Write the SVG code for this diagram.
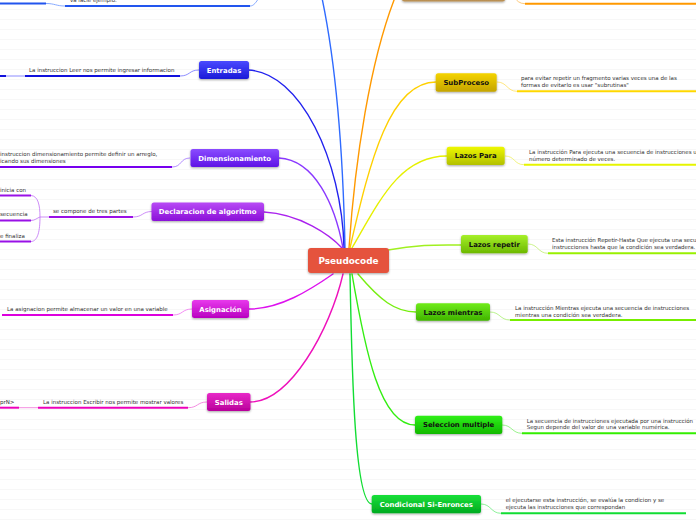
<svg xmlns="http://www.w3.org/2000/svg" width="696" height="520" viewBox="0 0 696 520">
<defs>
<pattern id="stripes" width="10" height="10" patternUnits="userSpaceOnUse">
<rect width="10" height="10" fill="#ffffff"/>
<rect y="9" width="10" height="1" fill="#f7f7f7"/>
</pattern>
<filter id="sh" x="-20%" y="-30%" width="140%" height="170%">
<feDropShadow dx="0" dy="1" stdDeviation="0.8" flood-color="#000" flood-opacity="0.35"/>
</filter>
<linearGradient id="gBlue" x1="0" y1="0" x2="0" y2="1"><stop offset="0" stop-color="#4a4aff"/><stop offset="1" stop-color="#1a1ad8"/></linearGradient>
<linearGradient id="gDim" x1="0" y1="0" x2="0" y2="1"><stop offset="0" stop-color="#8a4cff"/><stop offset="1" stop-color="#5e12e6"/></linearGradient>
<linearGradient id="gDec" x1="0" y1="0" x2="0" y2="1"><stop offset="0" stop-color="#b84af5"/><stop offset="1" stop-color="#8a10d8"/></linearGradient>
<linearGradient id="gAsi" x1="0" y1="0" x2="0" y2="1"><stop offset="0" stop-color="#e83aec"/><stop offset="1" stop-color="#b800c0"/></linearGradient>
<linearGradient id="gSal" x1="0" y1="0" x2="0" y2="1"><stop offset="0" stop-color="#e82ac8"/><stop offset="1" stop-color="#b8009a"/></linearGradient>
<linearGradient id="gOra" x1="0" y1="0" x2="0" y2="1"><stop offset="0" stop-color="#d8b070"/><stop offset="1" stop-color="#b88e50"/></linearGradient>
<linearGradient id="gSub" x1="0" y1="0" x2="0" y2="1"><stop offset="0" stop-color="#f5d400"/><stop offset="1" stop-color="#c4a400"/></linearGradient>
<linearGradient id="gPara" x1="0" y1="0" x2="0" y2="1"><stop offset="0" stop-color="#eef800"/><stop offset="1" stop-color="#b2c000"/></linearGradient>
<linearGradient id="gRep" x1="0" y1="0" x2="0" y2="1"><stop offset="0" stop-color="#a6f02a"/><stop offset="1" stop-color="#6cb800"/></linearGradient>
<linearGradient id="gMie" x1="0" y1="0" x2="0" y2="1"><stop offset="0" stop-color="#70ec1a"/><stop offset="1" stop-color="#40b400"/></linearGradient>
<linearGradient id="gSel" x1="0" y1="0" x2="0" y2="1"><stop offset="0" stop-color="#30f01a"/><stop offset="1" stop-color="#10b800"/></linearGradient>
<linearGradient id="gCon" x1="0" y1="0" x2="0" y2="1"><stop offset="0" stop-color="#1ae03a"/><stop offset="1" stop-color="#00aa20"/></linearGradient>
</defs>
<style>
.node{filter:url(#sh)}
.nt{font-family:"DejaVu Sans",Verdana,sans-serif;font-weight:bold;font-size:6.9px;text-anchor:middle}
.w{fill:#ffffff}
.k{fill:#111111}
.st{font-family:"DejaVu Sans",Verdana,sans-serif;font-size:5.5px;fill:#333333}
.conn{fill:none;stroke-width:1.4;stroke-linecap:round}
.thin{fill:none;stroke-width:0.8}
.ul{fill:none;stroke-width:2;stroke-linecap:butt}
</style>
<rect width="696" height="520" fill="url(#stripes)"/>

<g id="connectors">
<path class="conn" stroke="#2f6bff" d="M345,248 C343,150 335,60 322,-2"/>
<path class="conn" stroke="#2222ee" d="M344,248 C342,160 300,72 248,70"/>
<path class="conn" stroke="#8a38ff" d="M343,248 C335,205 315,160 279,158"/>
<path class="conn" stroke="#aa22ee" d="M342,248 C330,235 300,214 264,212"/>
<path class="conn" stroke="#dd11ee" d="M333,274 C310,290 280,309 249,309"/>
<path class="conn" stroke="#ee11bb" d="M343,274 C330,330 290,402 250,402"/>
<path class="conn" stroke="#ff9900" d="M349,248 C355,160 370,60 396,-5"/>
<path class="conn" stroke="#ffd000" d="M350,248 C370,160 390,82 436,82"/>
<path class="conn" stroke="#e6f000" d="M352,248 C380,200 400,156 447,156"/>
<path class="conn" stroke="#a0f020" d="M388,250 C420,244 440,245 461,245"/>
<path class="conn" stroke="#77ee11" d="M358,274 C380,300 395,312 416,312"/>
<path class="conn" stroke="#33ee11" d="M352,274 C365,350 380,425 415,425"/>
<path class="conn" stroke="#11dd33" d="M350,274 C352,380 355,504 372,504"/>

<path class="thin" stroke="#6a96ff" d="M250,6 C254,6 256,2 259,-2"/>
<path class="ul" stroke="#2255ee" d="M65,6 H250"/>
<path class="thin" stroke="#6a96ff" d="M46,3.5 C55,3.5 56,6 65,6"/>
<path class="ul" stroke="#2255ee" d="M0,3.5 H46"/>

<path class="thin" stroke="#7070ff" d="M199,70 C189,70 190,76 180,76"/>
<path class="ul" stroke="#1111dd" d="M25,76 H180"/>
<path class="thin" stroke="#7070ff" d="M6,76 H25"/>
<path class="ul" stroke="#1111dd" d="M0,76 H6"/>

<path class="thin" stroke="#a070ff" d="M190,158 C180,158 182,167 172,167"/>
<path class="ul" stroke="#7700ee" d="M0,167 H172"/>

<path class="thin" stroke="#c070f5" d="M152,211.5 C142,211.5 143,217 133,217"/>
<path class="ul" stroke="#9911e6" d="M49,217 H133"/>
<path class="thin" stroke="#c070f5" d="M49,217 H40"/>
<path class="thin" stroke="#c070f5" d="M40,217 C40,205 38,196 31,195.5"/>
<path class="thin" stroke="#c070f5" d="M40,217 C37,218 35,220.5 31,220.5"/>
<path class="thin" stroke="#c070f5" d="M40,217 C40,230 38,241.5 31,241.5"/>
<path class="ul" stroke="#9911e6" d="M0,195.5 H31"/>
<path class="ul" stroke="#9911e6" d="M0,220.5 H31"/>
<path class="ul" stroke="#9911e6" d="M0,241.5 H31"/>

<path class="thin" stroke="#f070f0" d="M192,309 C182,309 183,315 173,315"/>
<path class="ul" stroke="#dd00dd" d="M2,315 H173"/>

<path class="thin" stroke="#f070d8" d="M207,402 C197,402 198,407.7 188,407.7"/>
<path class="ul" stroke="#ee00bb" d="M38,407.7 H188"/>
<path class="thin" stroke="#f070d8" d="M19,407.7 H38"/>
<path class="ul" stroke="#ee00bb" d="M0,407.7 H19"/>

<path class="thin" stroke="#ffbb55" d="M505,-8 C515,-8 514,3.7 525,3.7"/>
<path class="ul" stroke="#ff9900" d="M525,3.7 H696"/>

<path class="thin" stroke="#ffe060" d="M497,82 C507,82 507,91.3 517,91.3"/>
<path class="ul" stroke="#ffd800" d="M517,91.3 H696"/>

<path class="thin" stroke="#eef060" d="M505,156 C515,156 514,164.7 524,164.7"/>
<path class="ul" stroke="#e6f500" d="M524,164.7 H696"/>

<path class="thin" stroke="#c0f070" d="M528,244 C538,244 538,253.3 548,253.3"/>
<path class="ul" stroke="#99f000" d="M548,253.3 H696"/>

<path class="thin" stroke="#a8f070" d="M490,312 C500,312 500,320 510,320"/>
<path class="ul" stroke="#77ee00" d="M510,320 H696"/>

<path class="thin" stroke="#80f070" d="M502,425 C512,425 512,433.3 522,433.3"/>
<path class="ul" stroke="#33ee00" d="M522,433.3 H696"/>

<path class="thin" stroke="#70ee80" d="M481,504 C491,504 491,513.3 501,513.3"/>
<path class="ul" stroke="#11dd33" d="M501,513.3 H686"/>
</g>

<g id="center">
<rect class="node" x="308" y="248" width="81" height="25" rx="3" fill="#e5533c"/>
<text class="nt w" x="348.5" y="264" style="font-size:8.9px">Pseudocode</text>
</g>

<g id="top-blue-sub">
<text class="st" x="70" y="1.5">va lacie ejemplo.</text>
</g>

<g id="entradas">
<rect class="node" x="199" y="61" width="50" height="18" rx="2.5" fill="url(#gBlue)"/>
<text class="nt w" x="224" y="72.5">Entradas</text>
<text class="st" x="29" y="72">La instruccion Leer nos permite ingresar informacion</text>
</g>

<g id="dimensionamiento">
<rect class="node" x="190.5" y="149" width="88.5" height="18" rx="2.5" fill="url(#gDim)"/>
<text class="nt w" x="234.7" y="160.5">Dimensionamiento</text>
<text class="st" x="0" y="156.3">instruccion dimensionamiento permite definir un arreglo,</text>
<text class="st" x="0" y="163">icando sus dimensiones</text>
</g>

<g id="declaracion">
<rect class="node" x="151.5" y="202.5" width="112.5" height="18.5" rx="2.5" fill="url(#gDec)"/>
<text class="nt w" x="207.7" y="214.3">Declaracion de algoritmo</text>
<text class="st" x="53" y="213">se compone de tres partes</text>
<text class="st" x="0" y="192">inicia con</text>
<text class="st" x="0" y="216">secuencia</text>
<text class="st" x="0" y="238">e finaliza</text>
</g>

<g id="asignacion">
<rect class="node" x="192" y="300" width="57" height="18" rx="2.5" fill="url(#gAsi)"/>
<text class="nt w" x="220.5" y="311.5">Asignación</text>
<text class="st" x="7" y="311">La asignacion permite almacenar un valor en una variable</text>
</g>

<g id="salidas">
<rect class="node" x="207" y="393" width="43.5" height="18" rx="2.5" fill="url(#gSal)"/>
<text class="nt w" x="228.8" y="404.5">Salidas</text>
<text class="st" x="43" y="404">La instruccion Escribir nos permite mostrar valores</text>
<text class="st" x="0" y="404">prN&gt;</text>
</g>

<g id="top-orange">
<rect class="node" x="402" y="-20" width="103" height="21.5" rx="2.5" fill="url(#gOra)"/>
</g>

<g id="subproceso">
<rect class="node" x="435.7" y="73.3" width="61" height="18.4" rx="2.5" fill="url(#gSub)"/>
<text class="nt k" x="466.2" y="85">SubProceso</text>
<text class="st" x="521" y="79.7">para evitar repetir un fragmento varias veces una de las</text>
<text class="st" x="521" y="87">formas de evitarlo es usar "subrutinas"</text>
</g>

<g id="lazos-para">
<rect class="node" x="446.7" y="146.7" width="58" height="18.3" rx="2.5" fill="url(#gPara)"/>
<text class="nt k" x="475.7" y="158.3">Lazos Para</text>
<text class="st" x="529" y="153.7">La instrucción Para ejecuta una secuencia de instrucciones u</text>
<text class="st" x="529" y="161">número determinado de veces.</text>
</g>

<g id="lazos-repetir">
<rect class="node" x="461" y="235" width="66.7" height="18.3" rx="2.5" fill="url(#gRep)"/>
<text class="nt k" x="494.3" y="246.6">Lazos repetir</text>
<text class="st" x="552" y="242">Esta instrucción Repetir-Hasta Que ejecuta una secu</text>
<text class="st" x="552" y="248.7">instrucciones hasta que la condición sea verdadera.</text>
</g>

<g id="lazos-mientras">
<rect class="node" x="416" y="303.3" width="74" height="17.4" rx="2.5" fill="url(#gMie)"/>
<text class="nt k" x="453" y="314.5">Lazos mientras</text>
<text class="st" x="515" y="310.3">La instrucción Mientras ejecuta una secuencia de instrucciones</text>
<text class="st" x="515" y="316.7">mientras una condición sea verdadera.</text>
</g>

<g id="seleccion-multiple">
<rect class="node" x="415" y="415.7" width="87.3" height="18.3" rx="2.5" fill="url(#gSel)"/>
<text class="nt k" x="458.6" y="427.3">Seleccion multiple</text>
<text class="st" x="526.7" y="422.7">La secuencia de instrucciones ejecutada por una instrucción</text>
<text class="st" x="526.7" y="429">Segun depende del valor de una variable numérica.</text>
</g>

<g id="condicional">
<rect class="node" x="371.7" y="495" width="109.3" height="18.3" rx="2.5" fill="url(#gCon)"/>
<text class="nt w" x="426.3" y="506.6">Condicional Si-Enronces</text>
<text class="st" x="505.7" y="502">el ejecutarse esta instrucción, se evalúa la condicion y se</text>
<text class="st" x="505.7" y="509.3">ejecuta las instrucciones que correspondan</text>
</g>
</svg>
